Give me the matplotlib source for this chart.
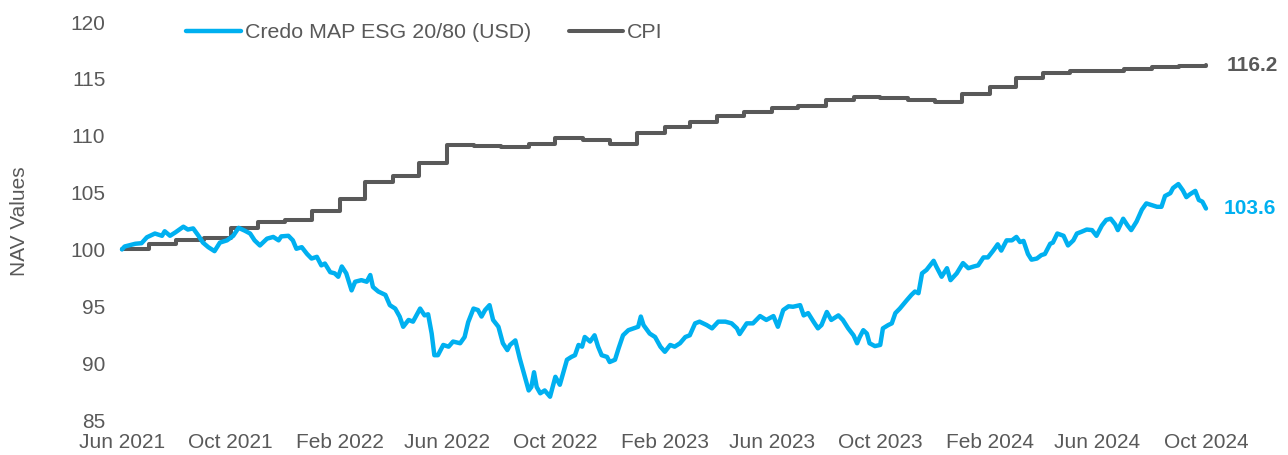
import matplotlib
matplotlib.use("Agg")
import matplotlib.pyplot as plt
from matplotlib import dates as mdates
import pandas as pd

plt.rcParams['font.family'] = ['Liberation Sans', 'DejaVu Sans']

# fund NAV: days since launch (1 Jun 2021) and NAV value
start = pd.Timestamp('2021-06-01')
credo_day = [0, 3, 15, 22, 28, 37, 45, 48, 54, 60, 69, 74, 80, 86, 91, 97, 104, 110, 118, 125,
             131, 138, 144, 149, 155, 163, 170, 176, 179, 187, 192, 196, 202, 208, 213, 219, 224, 228, 234, 239,
             243, 247, 252, 258, 262, 269, 275, 279, 282, 288, 296, 301, 307, 312, 316, 322, 327, 335, 340, 344,
             348, 351, 355, 361, 367, 372, 380, 385, 389, 395, 400, 404, 408, 413, 417, 423, 428, 433, 436, 442,
             447, 453, 457, 460, 463, 466, 470, 475, 481, 487, 492, 500, 505, 509, 513, 517, 520, 526, 531, 535,
             539, 545, 548, 554, 558, 563, 569, 575, 580, 583, 586, 593, 599, 605, 610, 616, 621, 627, 633, 638,
             644, 649, 657, 663, 670, 678, 685, 691, 694, 702, 709, 717, 724, 732, 737, 743, 749, 754, 762, 766,
             771, 777, 782, 786, 792, 797, 805, 810, 816, 822, 826, 829, 833, 837, 840, 846, 852, 855, 861, 865,
             869, 874, 882, 887, 891, 895, 899, 904, 912, 915, 921, 927, 931, 938, 945, 951, 957, 962, 968, 973,
             979, 984, 988, 994, 1000, 1005, 1009, 1013, 1018, 1022, 1028, 1033, 1037, 1043, 1046, 1051, 1058, 1063, 1069, 1073,
             1078, 1084, 1090, 1095, 1101, 1106, 1111, 1116, 1119, 1125, 1130, 1134, 1140, 1146, 1151, 1157, 1163, 1168, 1172, 1178,
             1181, 1187, 1192, 1196, 1200, 1206, 1210, 1214, 1218]
credo_nav = [100.0, 100.26, 100.5, 100.55, 101.07, 101.4, 101.2, 101.6, 101.2, 101.5, 102.0, 101.75, 101.85, 101.2, 100.6, 100.2, 99.85, 100.6, 100.8, 101.2,
             101.9, 101.65, 101.4, 100.8, 100.35, 100.95, 101.1, 100.8, 101.15, 101.2, 100.8, 100.06, 100.2, 99.6, 99.2, 99.35, 98.6, 98.76, 98.0, 97.9,
             97.6, 98.5, 97.9, 96.4, 97.16, 97.3, 97.16, 97.75, 96.7, 96.3, 96.0, 95.1, 94.8, 94.1, 93.2, 93.8, 93.65, 94.8, 94.2, 94.3,
             92.6, 90.7, 90.7, 91.6, 91.45, 91.9, 91.75, 92.3, 93.6, 94.8, 94.67, 94.1, 94.67, 95.1, 93.8, 93.2, 91.75, 91.15, 91.6, 92.0,
             90.4, 88.7, 87.6, 87.9, 89.2, 87.9, 87.35, 87.6, 87.05, 88.8, 88.1, 90.3, 90.55, 90.7, 91.6, 91.45, 92.3, 91.9, 92.45, 91.45,
             90.7, 90.55, 90.1, 90.3, 91.3, 92.45, 92.9, 93.06, 93.2, 94.1, 93.35, 92.6, 92.3, 91.45, 91.0, 91.6, 91.45, 91.75, 92.3, 92.45,
             93.5, 93.65, 93.35, 93.06, 93.65, 93.65, 93.5, 93.06, 92.56, 93.5, 93.5, 94.14, 93.8, 94.14, 93.2, 94.67, 95.0, 94.96, 95.1, 94.2,
             94.4, 93.65, 93.06, 93.35, 94.5, 93.8, 94.2, 93.8, 93.06, 92.45, 91.75, 92.3, 92.9, 92.6, 91.75, 91.5, 91.6, 93.06, 93.35, 93.5,
             94.4, 94.8, 95.55, 96.0, 96.3, 96.15, 97.9, 98.2, 99.0, 98.5, 97.6, 98.35, 97.3, 97.9, 98.8, 98.35, 98.5, 98.6, 99.3, 99.3,
             99.9, 100.45, 99.9, 100.8, 100.8, 101.1, 100.65, 100.75, 99.6, 99.1, 99.2, 99.5, 99.6, 100.5, 100.6, 101.4, 101.2, 100.35, 100.8, 101.4,
             101.55, 101.75, 101.7, 101.2, 102.1, 102.6, 102.7, 102.2, 101.7, 102.7, 102.1, 101.7, 102.45, 103.5, 104.05, 103.9, 103.75, 103.75, 104.7, 104.95,
             105.4, 105.75, 105.2, 104.6, 104.85, 105.15, 104.35, 104.2, 103.6]

# CPI rebased to 100, monthly
cpi_month = pd.date_range('2021-06-01', '2024-10-01', freq='MS')
cpi_value = [100.0, 100.5, 100.8, 101.0, 101.85, 102.4, 102.6,
             103.4, 104.4, 105.9, 106.5, 107.6, 109.2, 109.1, 109.05, 109.3, 109.8, 109.6, 109.3,
             110.2, 110.8, 111.2, 111.7, 112.1, 112.4, 112.6, 113.1, 113.4, 113.3, 113.1, 113.0,
             113.7, 114.3, 115.05, 115.5, 115.7, 115.7, 115.9, 116.05, 116.15, 116.2]

blue = '#00B0F0'
grey = '#595959'
fs = 15

credo_date = start + pd.to_timedelta(credo_day, unit='D')

fig = plt.figure(figsize=(12.88, 4.55), dpi=100)
ax = fig.add_axes([0.0947, 0.0769, 0.8416, 0.8747])

ax.plot(credo_date, credo_nav, color=blue, lw=3.2, label='Credo MAP ESG 20/80 (USD)',
        solid_joinstyle='round', solid_capstyle='round', clip_on=False, zorder=3)
ax.plot(cpi_month, cpi_value, color=grey, lw=2.9, drawstyle='steps-post', label='CPI',
        solid_capstyle='round', clip_on=False, zorder=2)

# end labels
ax.annotate('%.1f' % cpi_value[-1], (cpi_month[-1], cpi_value[-1]), xytext=(15, 0),
            textcoords='offset points', ha='left', va='center', fontsize=fs,
            fontweight='bold', color=grey)
ax.annotate('%.1f' % credo_nav[-1], (credo_date[-1], credo_nav[-1]), xytext=(13, 0),
            textcoords='offset points', ha='left', va='center', fontsize=fs,
            fontweight='bold', color=blue)

ax.set_xlim(cpi_month[0], cpi_month[-1])
ax.set_ylim(85, 120)
ax.set_yticks(range(85, 121, 5))
ax.xaxis.set_major_locator(mdates.MonthLocator(bymonth=[2, 6, 10]))
ax.xaxis.set_major_formatter(mdates.DateFormatter('%b %Y'))

for s in ax.spines.values():
    s.set_visible(False)
ax.tick_params(axis='both', length=0, labelsize=fs, labelcolor=grey)
ax.tick_params(axis='y', pad=12)
ax.tick_params(axis='x', pad=9)

ax.set_ylabel('NAV Values', fontsize=fs, color=grey)
ax.yaxis.set_label_coords(-0.086, 0.5)

leg = ax.legend(loc='center left', bbox_to_anchor=(186 / 1288, 1 - 33 / 455),
                bbox_transform=fig.transFigure, ncol=2, frameon=False, fontsize=15.4,
                handlelength=2.55, handletextpad=0.2, columnspacing=1.75,
                borderpad=0, borderaxespad=0)
for t in leg.get_texts():
    t.set_color(grey)

fig.savefig('out.png', dpi=100)
